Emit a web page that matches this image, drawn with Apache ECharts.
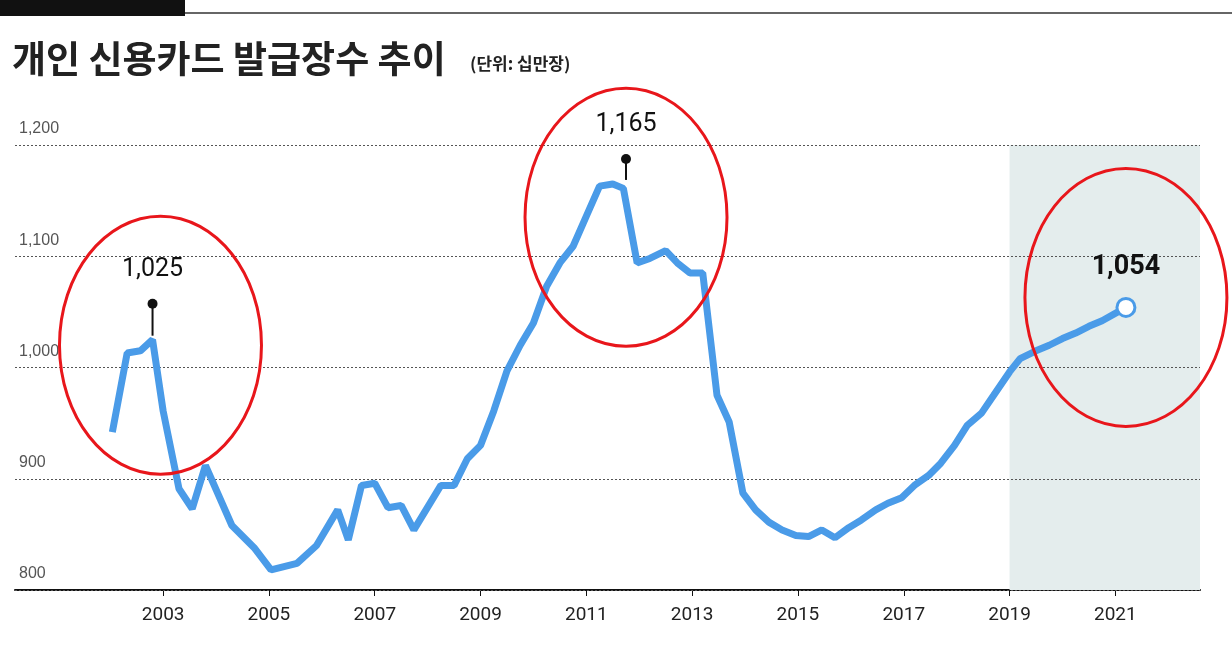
<!DOCTYPE html>
<html><head><meta charset="utf-8">
<script src="https://cdn.jsdelivr.net/npm/echarts@6/dist/echarts.min.js"></script>
<style>html,body{margin:0;padding:0;background:#fff}#c{width:1232px;height:651px}</style>
</head><body><div id="c"></div>
<script>
const years=[2002.04,2002.32,2002.57,2002.8,2003.0,2003.3,2003.55,2003.8,2004.3,2004.72,2005.04,2005.53,2005.9,2006.3,2006.5,2006.75,2007.0,2007.25,2007.5,2007.74,2008.25,2008.5,2008.75,2009.0,2009.25,2009.5,2009.75,2010.0,2010.25,2010.5,2010.75,2011.0,2011.25,2011.5,2011.7,2011.96,2012.2,2012.5,2012.72,2012.96,2013.2,2013.47,2013.7,2013.96,2014.2,2014.45,2014.7,2014.96,2015.2,2015.45,2015.7,2015.96,2016.2,2016.47,2016.7,2016.96,2017.2,2017.47,2017.7,2017.96,2018.2,2018.47,2018.7,2019.0,2019.2,2019.5,2019.75,2020.0,2020.25,2020.5,2020.75,2021.2];
const values=[942,1013,1015,1025,961,891,873,912,858,838,818,824,840,872,845,894,896,874,876,854,894,894,918,930,961,997,1020,1040,1073,1094,1109,1136,1163,1165,1161,1094,1098,1105,1094,1085,1085,975,951,887,872,861,854,849,848,854,847,856,863,872,878,883,894,903,914,930,948,959,975,996,1008,1015,1020,1026,1031,1037,1042,1054];
const yearTicks=[2003,2005,2007,2009,2011,2013,2015,2017,2019,2021];
const yTicks=[800,900,1000,1100,1200];
const shade=[2019,2022.6];
const peaks=[{x:2002.8,y:1025,label:'1,025',len:36},{x:2011.75,y:1165,label:'1,165',len:25}];
const circles=[{x:2002.95,y:1020},{x:2011.75,y:1135},{x:2021.2,y:1063}];
const chart=echarts.init(document.getElementById('c'));
chart.setOption({
  animation:false,
  grid:{left:15,right:32,top:145,bottom:61},
  xAxis:{type:'value',min:2000.2,max:2022.6,splitLine:{show:false},
    axisLine:{lineStyle:{color:'#111',width:2}},
    axisTick:{customValues:yearTicks,length:6,lineStyle:{color:'#111'}},
    axisLabel:{customValues:yearTicks,formatter:v=>String(v),color:'#222',fontSize:19,margin:16,fontFamily:'Roboto'}},
  yAxis:{type:'value',min:800,max:1200,interval:100,z:5,
    axisLine:{show:false},axisTick:{show:false},
    splitLine:{lineStyle:{type:[2,2],color:'#555',width:1}},
    axisLabel:{inside:true,verticalAlign:'bottom',padding:[0,0,8,0],margin:4,color:'#555',fontSize:16,
      formatter:v=>v.toLocaleString('en-US'),showMinLabel:true}},
  series:[
    {type:'line',data:[],z:1,markArea:{silent:true,itemStyle:{color:'#e4eded'},data:[[{xAxis:shade[0]},{xAxis:shade[1]}]]}},
    {type:'line',data:years.map((x,i)=>[x,values[i]]),showSymbol:false,
    lineStyle:{color:'#4a9be8',width:7},z:6}]
});
const g=[
  {type:'rect',shape:{x:0,y:0,width:185,height:16},style:{fill:'#111'}},
  {type:'line',shape:{x1:185,y1:13,x2:1232,y2:13},style:{stroke:'#333',lineWidth:1.5}},
  {type:'text',x:12,y:40,style:{text:'개인 신용카드 발급장수 추이',font:'bold 37px "Noto Sans CJK KR"',fill:'#222'}},
  {type:'text',x:470,y:55,style:{text:'(단위: 십만장)',font:'bold 17px "Noto Sans CJK KR"',fill:'#222'}}
];
peaks.forEach(p=>{
  const [px,py]=chart.convertToPixel({gridIndex:0},[p.x,p.y]);
  g.push({type:'line',shape:{x1:px,y1:py-4,x2:px,y2:py-p.len},style:{stroke:'#111',lineWidth:2},z:10});
  g.push({type:'circle',shape:{cx:px,cy:py-p.len,r:5},style:{fill:'#111'},z:10});
  g.push({type:'text',x:px,y:py-p.len-34,style:{text:p.label,font:'25px Roboto',fill:'#111',align:'center',verticalAlign:'middle'},z:10});
});
const last=chart.convertToPixel({gridIndex:0},[years[years.length-1],values[values.length-1]]);
g.push({type:'circle',shape:{cx:last[0],cy:last[1],r:9},style:{fill:'#fff',stroke:'#4a9be8',lineWidth:3},z:10});
g.push({type:'text',x:last[0],y:last[1]-40,style:{text:values[values.length-1].toLocaleString('en-US'),font:'bold 27px Roboto',fill:'#111',align:'center',verticalAlign:'middle'},z:10});
circles.forEach(c=>{
  const [cx,cy]=chart.convertToPixel({gridIndex:0},[c.x,c.y]);
  g.push({type:'ellipse',shape:{cx:cx,cy:cy,rx:101,ry:129},style:{fill:null,stroke:'#e8161b',lineWidth:3},z:11});
});
chart.setOption({graphic:g});
</script></body></html>
